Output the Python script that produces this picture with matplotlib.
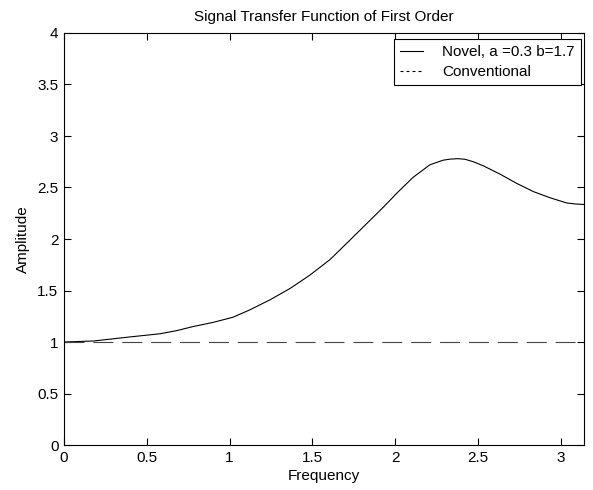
import numpy as np
import matplotlib
matplotlib.use("Agg")
import matplotlib.pyplot as plt
from matplotlib.lines import Line2D

# --- data ---
freq = [0.0, 0.18, 0.38, 0.58, 0.68, 0.78, 0.90, 1.02, 1.12, 1.245, 1.366,
        1.486, 1.607, 1.728, 1.829, 1.93, 2.02, 2.11, 2.21, 2.29, 2.33, 2.38,
        2.423, 2.473, 2.534, 2.634, 2.735, 2.836, 2.937, 3.037, 3.09, np.pi]
novel = [1.0, 1.01, 1.046, 1.08, 1.11, 1.15, 1.19, 1.24, 1.31, 1.41, 1.52,
         1.65, 1.80, 1.99, 2.15, 2.31, 2.46, 2.60, 2.72, 2.765, 2.775, 2.78,
         2.774, 2.75, 2.71, 2.63, 2.54, 2.46, 2.40, 2.35, 2.34, 2.335]
conv_x = [0.0, np.pi]
conv_y = [1.0, 1.0]

x_ticks = [0, 0.5, 1, 1.5, 2, 2.5, 3]
y_ticks = [0, 0.5, 1, 1.5, 2, 2.5, 3, 3.5, 4]

plt.rcParams['font.family'] = ['Liberation Sans', 'DejaVu Sans']
plt.rcParams['font.size'] = 11

fig = plt.figure(figsize=(5.93, 4.90), dpi=100)
ax = fig.add_axes([64 / 593, 45 / 490, 520 / 593, 412 / 490])

ax.plot(freq, novel, color='black', linewidth=0.8)
ax.plot(conv_x, conv_y, color='#444444', linewidth=0.8, dashes=(18, 8))

ax.set_xlim(0, np.pi)
ax.set_ylim(0, 4)
ax.set_xticks(x_ticks)
ax.set_xticklabels([f"{t:g}" for t in x_ticks])
ax.set_yticks(y_ticks)
ax.set_yticklabels([f"{t:g}" for t in y_ticks])
ax.tick_params(direction='in', top=True, right=True, length=5, width=0.8,
               labelsize=11, pad=4)
for s in ax.spines.values():
    s.set_linewidth(0.8)

ax.set_title('Signal Transfer Function of First Order', fontsize=11, pad=9)
ax.set_xlabel('Frequency', labelpad=3)
ax.set_ylabel('Amplitude', labelpad=5)

handles = [Line2D([], [], color='black', linewidth=0.8),
           Line2D([], [], color='black', linewidth=0.8, dashes=(2.7, 2.7))]
leg = ax.legend(handles, ['Novel, a =0.3 b=1.7', 'Conventional'],
                loc='upper right', bbox_to_anchor=(517 / 520, 406 / 412),
                fancybox=False, shadow=False, framealpha=1,
                edgecolor='black', borderpad=0.4, handlelength=1.5,
                handletextpad=1.3, labelspacing=0.4, borderaxespad=0,
                fontsize=11)
leg.get_frame().set_linewidth(0.8)

fig.savefig('out.png', dpi=100)
